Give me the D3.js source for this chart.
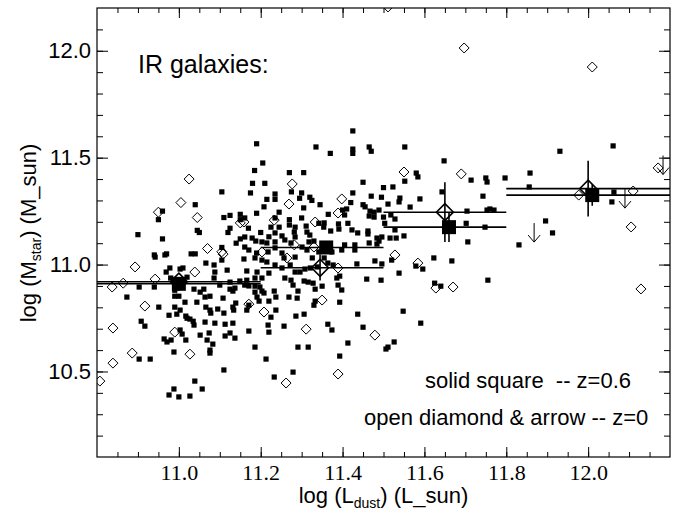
<!DOCTYPE html>
<html><head><meta charset="utf-8">
<script src="https://cdn.jsdelivr.net/npm/d3@7"></script>
<style>body{margin:0;background:#fff} svg{display:block}</style>
</head><body><svg id="c" width="680" height="512"></svg>
<script>
// ---------------- data ----------------
const xMajorTicks = [11.0, 11.2, 11.4, 11.6, 11.8, 12.0];
const xMinorTicks = d3.range(10.85, 12.2, 0.05).map(v => +v.toFixed(2));
const yMajorTicks = [10.5, 11.0, 11.5, 12.0];
const yMinorTicks = d3.range(10.2, 12.2, 0.1).map(v => +v.toFixed(1));

// z=0.6 individual galaxies (solid squares): [log Ldust, log Mstar]
const z06Squares = [
[11.105,11.34],[11.04,11.28],[10.96,11.25],[10.95,11.21],[11.11,11.22],[11.125,11.23],[11.15,11.21],[11.045,11.16],[11.05,11.15],[11.125,11.17],[11.12,11.15],[10.90,11.14],[10.96,11.12],[11.15,11.12],[11.14,11.10],[11.105,11.08],[11.04,11.05],[11.03,11.05],[10.97,11.05],[10.94,11.045],[11.15,11.235],
[11.425,11.625],[11.19,11.565],[11.335,11.55],[11.37,11.52],[11.425,11.54],[11.425,11.52],[11.465,11.55],[11.47,11.53],[11.205,11.475],[11.185,11.44],[11.27,11.43],[11.305,11.43],[11.45,11.385],[11.18,11.38],[11.21,11.38],[11.50,11.36],[11.175,11.335],[11.235,11.33],[11.275,11.34],[11.30,11.335],[11.295,11.31],[11.32,11.315],[11.325,11.30],[11.425,11.335],[11.47,11.32],[11.495,11.315],[11.215,11.305],[11.235,11.305],[11.345,11.28],[11.305,11.265],[11.42,11.29],[11.45,11.28],[11.455,11.27],[11.208,11.27],[11.245,11.245],[11.19,11.24],[11.40,11.255],[11.41,11.26],[11.405,11.232],[11.467,11.25],[11.477,11.245],[11.489,11.255],[11.465,11.227],[11.477,11.222],[11.27,11.21],[11.30,11.218],[11.365,11.235],[11.355,11.195],[11.39,11.19],[11.413,11.193],[11.235,11.218],[11.225,11.175],[11.245,11.175],[11.27,11.185],[11.284,11.175],[11.311,11.18],[11.342,11.193],[11.161,11.218],[11.503,11.193],[11.50,11.222],[11.17,11.17],[11.20,11.15],[11.22,11.13],[11.235,11.148],[11.252,11.134],[11.282,11.152],[11.284,11.129],[11.313,11.152],[11.32,11.138],[11.354,11.175],[11.371,11.157],[11.391,11.166],[11.423,11.162],[11.437,11.148],[11.462,11.157],[11.462,11.143],[11.484,11.124],[11.496,11.129],[11.161,11.129],[11.179,11.124],[11.188,11.11],[11.203,11.106],[11.215,11.101],[11.235,11.106],[11.259,11.115],[11.274,11.101],[11.318,11.106],[11.33,11.11],[11.405,11.092],[11.43,11.092],[11.465,11.101],[11.161,11.082],[11.171,11.068],[11.489,11.11],[11.484,11.096],[11.19,11.054],[11.218,11.059],[11.235,11.078],[11.252,11.054],[11.301,11.082],[11.313,11.068],[11.342,11.059],[11.374,11.059],[11.398,11.068],[11.43,11.068],
[11.552,11.55],[11.648,11.485],[11.58,11.428],[11.584,11.41],[11.552,11.39],[11.714,11.395],[11.75,11.405],[11.753,11.386],[11.797,11.405],[11.858,11.428],[11.523,11.363],[11.856,11.363],[11.643,11.34],[11.54,11.311],[11.538,11.293],[11.589,11.307],[11.743,11.32],[11.511,11.283],[11.565,11.269],[11.704,11.25],[11.753,11.255],[11.76,11.26],[11.77,11.255],[11.518,11.232],[11.528,11.213],[11.702,11.193],[11.748,11.175],[11.528,11.162],[11.55,11.134],[11.516,11.124],[11.531,11.124],[11.706,11.106],[11.831,11.092],
[11.931,11.53],[12.061,11.555],[11.896,11.204],[11.913,11.148],[12.063,11.339],[12.058,11.293],
[10.942,11.035],[10.966,11.045],[10.978,10.984],[10.969,10.965],[11.003,10.979],[11.01,10.984],[10.903,10.895],[10.873,10.848],[10.94,10.895],[10.951,10.801],[10.99,10.801],[10.976,10.763],[10.995,10.768],[11.003,10.787],[11.017,10.759],[11.015,10.824],[10.99,10.852],[11.0,10.852],[11.037,10.885],[11.052,10.871],[11.061,10.885],[11.044,10.824],[11.064,10.848],[11.076,10.852],[11.066,10.801],[11.108,10.843],[11.076,10.787],[11.095,10.792],[11.078,10.773],[11.11,10.773],[11.132,10.801],[11.134,10.787],[11.139,10.82],[11.125,10.885],[11.132,10.876],[11.02,10.749],[11.027,10.745],[11.035,10.735],[11.037,10.717],[11.064,10.731],[11.088,10.726],[11.113,10.721],[11.132,10.726],[10.908,10.735],[10.917,10.712],[11.052,10.67],[11.074,10.68],[11.003,10.694],[11.008,10.675],[11.113,10.666],[11.125,10.68],[11.137,10.656],[10.964,10.652],[10.971,10.638],[10.981,10.647],[11.017,10.647],[11.069,10.647],[11.083,10.628],[11.076,10.6],[11.076,10.586],[10.988,10.591],[10.903,10.558],[10.93,10.558],[11.11,10.507],[11.039,10.455],[10.988,10.418],[11.057,10.418],[10.976,10.39],[11.0,10.381],[11.027,10.385],[11.125,10.918],[11.086,10.937],[11.088,10.965],[11.086,10.998],[11.066,11.007],[11.118,10.974],[11.105,11.021],[11.1,10.904],[11.137,10.89],[11.149,10.923],[10.98,10.937],[11.02,10.941],[10.99,10.88],
[11.435,11.003],[11.479,11.017],[11.496,11.003],[11.459,10.932],[11.494,10.927],[11.393,10.946],[11.398,10.881],[11.393,10.824],[11.437,10.768],[11.45,10.707],[11.413,10.633],[11.393,10.572],[11.506,10.605],[11.364,10.721],[11.374,10.694],[11.316,10.614],[11.291,10.614],[11.279,10.497],[11.233,10.474],[11.213,10.558],[11.186,10.614],[11.171,10.689],[11.22,10.684],[11.218,10.717],[11.257,10.712],[11.286,10.759],[11.306,10.768],[11.225,10.754],[11.237,10.787],[11.166,10.787],[11.171,10.81],[11.208,10.867],[11.233,10.876],[11.237,10.848],[11.22,10.829],[11.191,10.848],[11.196,10.829],[11.269,10.848],[11.291,10.876],[11.289,10.843],[11.333,10.885],[11.333,10.829],[11.33,10.81],[11.35,10.899],[11.328,10.913],[11.316,10.918],[11.306,10.923],[11.279,10.904],[11.274,10.927],[11.259,10.937],[11.284,10.965],[11.296,10.965],[11.308,10.979],[11.386,10.937],[11.389,10.904],[11.166,10.97],[11.191,10.965],[11.22,10.96],[11.166,10.927],[11.186,10.937],[11.203,10.937],[11.161,10.904],[11.171,10.9],[11.186,10.899],[11.198,10.895],[11.203,10.876],[11.186,10.871],[11.159,11.026],[11.186,11.031],[11.203,11.021],[11.215,11.012],[11.257,11.031],[11.272,10.998],[11.284,11.035],[11.326,11.031],[11.338,10.989],[11.321,10.984],[11.252,10.984],[11.235,10.998],[11.355,11.031],[11.364,11.007],[11.377,10.998],[11.52,11.021],
[11.623,11.031],[11.667,11.017],[11.579,10.993],[11.596,10.979],[11.538,10.96],[11.625,10.913],[11.64,10.899],[11.755,10.927],[11.548,10.782],[11.591,10.726],[11.526,10.638],[11.511,10.614]
];

// z=0 individual galaxies (open diamonds)
const z0Diamonds = [
[11.025,11.40],[11.005,11.29],[10.95,11.245],[11.045,11.22],[11.07,11.075],[11.105,11.06],[11.15,11.195],
[11.277,11.377],[11.269,11.283],[11.398,11.307],[11.389,11.241],[11.333,11.199],[11.233,11.208],[11.159,11.199],[11.282,11.092],[11.33,11.082],[11.203,11.059],
[11.55,11.433],[11.69,11.424],[11.528,11.045],
[11.697,12.013],[12.01,11.924],[12.11,11.344],[11.977,11.325],[12.105,11.176],[12.171,11.452],[12.129,10.886],[11.511,12.205],
[10.893,10.989],[11.039,10.965],[10.942,10.932],[10.864,10.913],[10.837,10.895],[10.917,10.806],[10.839,10.703],[10.99,10.684],[10.886,10.586],[11.027,10.581],[10.839,10.539],[10.807,10.455],[11.108,11.049],
[11.389,10.984],[11.35,10.834],[11.171,10.815],[11.208,10.778],[11.311,10.698],[11.479,10.67],[11.389,10.488],[11.262,10.446],[11.264,11.031],
[11.584,11.007],[11.628,10.89],[11.67,10.895]
];

// z=0 upper limits (arrows): [log Ldust, log Mstar upper limit]
const z0Arrows = [[11.868,11.194],[12.09,11.353],[12.183,11.51]];

// binned means
const binLo   = [10.8, 11.2, 11.5, 11.8];
const binHi   = [11.2, 11.5, 11.8, 12.2];
const binZ06X = [11.0, 11.36, 11.66, 12.01];
const binZ06Y = [10.91, 11.08, 11.175, 11.325];
const binZ06E = [0.02, 0.03, 0.07, 0.05];
const binZ0X  = [11.0, 11.345, 11.65, 12.0];
const binZ0Y  = [10.92, 10.985, 11.245, 11.355];
const binZ0E  = [0.02, 0.06, 0.14, 0.13];

// ---------------- chart ----------------
const L = 97, R = 670, T = 8, B = 457;
const svg = d3.select("#c");
const x = d3.scaleLinear().domain([10.8, 12.2]).range([L, R]);
const y = d3.scaleLinear().domain([10.1, 12.2]).range([B, T]);
const SANS = "'Liberation Sans', Arial, Helvetica, sans-serif";
const SERIF = "'Liberation Serif', 'Times New Roman', serif";

svg.append("rect").attr("width", 680).attr("height", 512).attr("fill", "#fff");
svg.append("defs").append("clipPath").attr("id", "clip")
  .append("rect").attr("x", L).attr("y", T).attr("width", R - L).attr("height", B - T);

const plot = svg.append("g").attr("clip-path", "url(#clip)");

// individual points
plot.append("g").selectAll("rect").data(z06Squares).join("rect")
  .attr("x", d => x(d[0]) - 2.6).attr("y", d => y(d[1]) - 2.6)
  .attr("width", 5.2).attr("height", 5.2).attr("fill", "#000");

const diamond = (cx, cy, r) => `M${cx},${cy - r}L${cx + r},${cy}L${cx},${cy + r}L${cx - r},${cy}Z`;
plot.append("g").selectAll("path").data(z0Diamonds).join("path")
  .attr("d", d => diamond(x(d[0]), y(d[1]), 5))
  .attr("fill", "none").attr("stroke", "#000").attr("stroke-width", 1);

plot.append("g").selectAll("path").data(z0Arrows).join("path")
  .attr("d", d => {
    const cx = x(d[0]), y0 = y(d[1]), y1 = y0 + 19;
    return `M${cx},${y0}L${cx},${y1}M${cx - 6},${y1 - 7}L${cx},${y1}L${cx + 6},${y1 - 7}`;
  })
  .attr("fill", "none").attr("stroke", "#000").attr("stroke-width", 1);

// binned values
const bins = binLo.map((lo, i) => ({lo, hi: binHi[i],
  x06: binZ06X[i], y06: binZ06Y[i], e06: binZ06E[i],
  x0: binZ0X[i], y0: binZ0Y[i], e0: binZ0E[i]}));
const bg = plot.append("g").attr("stroke", "#000").attr("stroke-width", 1.6).attr("fill", "none");
bins.forEach(b => {
  bg.append("line").attr("x1", x(b.lo)).attr("x2", x(b.hi)).attr("y1", y(b.y0)).attr("y2", y(b.y0));
  bg.append("line").attr("x1", x(b.lo)).attr("x2", x(b.hi)).attr("y1", y(b.y06)).attr("y2", y(b.y06));
  bg.append("line").attr("x1", x(b.x0)).attr("x2", x(b.x0)).attr("y1", y(b.y0 + b.e0)).attr("y2", y(b.y0 - b.e0));
  bg.append("line").attr("x1", x(b.x06)).attr("x2", x(b.x06)).attr("y1", y(b.y06 + b.e06)).attr("y2", y(b.y06 - b.e06));
  bg.append("path").attr("d", diamond(x(b.x0), y(b.y0), 8.5));
  bg.append("rect").attr("x", x(b.x06) - 7).attr("y", y(b.y06) - 7)
    .attr("width", 14).attr("height", 14).attr("fill", "#000").attr("stroke", "none");
});

// axes
function styleAxis(g) {
  g.select(".domain").remove();
  g.selectAll("line").attr("stroke", "#000").attr("stroke-width", 1);
}
svg.append("g").attr("transform", `translate(0,${B})`)
  .call(d3.axisBottom(x).tickValues(xMajorTicks).tickSize(-10).tickPadding(7).tickFormat(d3.format(".1f")))
  .call(styleAxis)
  .call(g => g.selectAll("text").attr("font-family", SERIF).attr("font-size", 22).attr("fill", "#000"));
svg.append("g").attr("transform", `translate(0,${B})`)
  .call(d3.axisBottom(x).tickValues(xMinorTicks).tickSize(-5).tickFormat(""))
  .call(styleAxis);
svg.append("g").attr("transform", `translate(0,${T})`)
  .call(d3.axisTop(x).tickValues(xMajorTicks).tickSize(-10).tickFormat(""))
  .call(styleAxis);
svg.append("g").attr("transform", `translate(0,${T})`)
  .call(d3.axisTop(x).tickValues(xMinorTicks).tickSize(-5).tickFormat(""))
  .call(styleAxis);

svg.append("g").attr("transform", `translate(${L},0)`)
  .call(d3.axisLeft(y).tickValues(yMajorTicks).tickSize(-11).tickPadding(6).tickFormat(d3.format(".1f")))
  .call(styleAxis)
  .call(g => g.selectAll("text").attr("font-family", SANS).attr("font-size", 22).attr("fill", "#000"));
svg.append("g").attr("transform", `translate(${L},0)`)
  .call(d3.axisLeft(y).tickValues(yMinorTicks).tickSize(-6).tickFormat(""))
  .call(styleAxis);
svg.append("g").attr("transform", `translate(${R},0)`)
  .call(d3.axisRight(y).tickValues(yMajorTicks).tickSize(-11).tickFormat(""))
  .call(styleAxis);
svg.append("g").attr("transform", `translate(${R},0)`)
  .call(d3.axisRight(y).tickValues(yMinorTicks).tickSize(-6).tickFormat(""))
  .call(styleAxis);

svg.append("rect").attr("x", L).attr("y", T).attr("width", R - L).attr("height", B - T)
  .attr("fill", "none").attr("stroke", "#000").attr("stroke-width", 1.2);

// titles
const xt = svg.append("text").attr("x", (L + R) / 2 - 0).attr("y", 503)
  .attr("text-anchor", "middle").attr("font-family", SANS).attr("font-size", 22).attr("fill", "#000");
xt.append("tspan").text("log (L");
xt.append("tspan").attr("font-size", 14).attr("dy", 5).text("dust");
xt.append("tspan").attr("dy", -5).text(") (L_sun)");

const yt = svg.append("text").attr("transform", `translate(36,233) rotate(-90)`)
  .attr("text-anchor", "middle").attr("font-family", SANS).attr("font-size", 22).attr("fill", "#000");
yt.append("tspan").text("log (M");
yt.append("tspan").attr("font-size", 14).attr("dy", 5).text("star");
yt.append("tspan").attr("dy", -5).text(") (M_sun)");

svg.append("text").attr("x", 138).attr("y", 73).attr("font-family", SANS).attr("font-size", 25)
  .attr("fill", "#000").text("IR galaxies:");
svg.append("text").attr("x", 425).attr("y", 388).attr("font-family", SANS).attr("font-size", 22)
  .attr("fill", "#000").style("white-space", "pre").text("solid square  -- z=0.6");
svg.append("text").attr("x", 364).attr("y", 425).attr("font-family", SANS).attr("font-size", 22)
  .attr("fill", "#000").style("white-space", "pre").text("open diamond & arrow -- z=0");
</script></body></html>
